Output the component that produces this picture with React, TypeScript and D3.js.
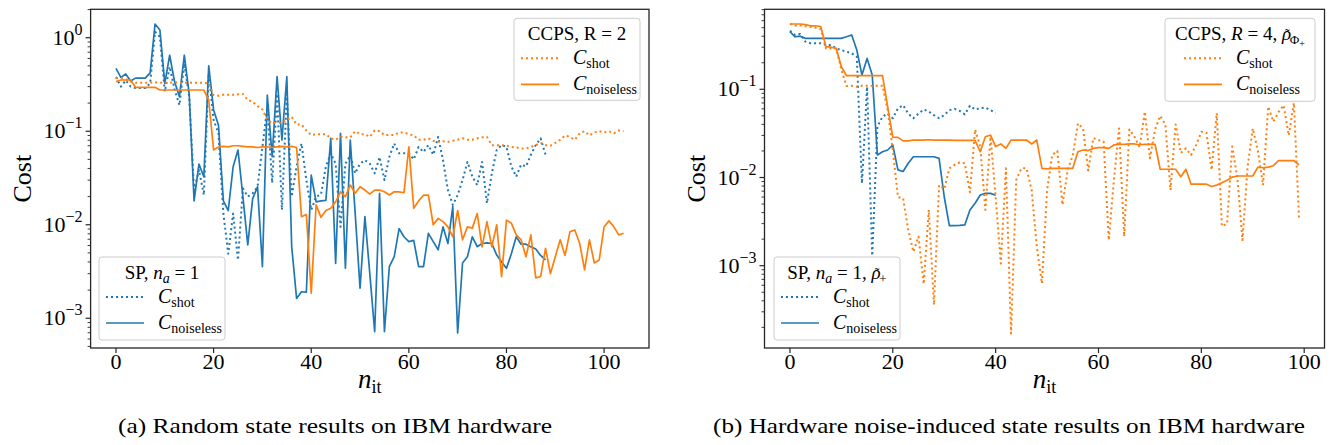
import React from "react";
import * as d3 from "d3";

const BLUE = "#1f77b4";
const ORANGE = "#ff7f0e";
const SERIF = "Liberation Serif, Times New Roman, Times, serif";

// (a) random state, SP n_a = 1 (blue) and CCPS R = 2 (orange), one value per iteration
const aBlueShot = [
  0.38, 0.3, 0.35, 0.3, 0.29, 0.29, 0.29, 0.325, 1.16, 1.02,
  0.265, 0.49, 0.28, 0.19, 0.53, 0.234, 0.0235, 0.0385, 0.0208, 0.416,
  0.132, 0.095, 0.0132, 0.0049, 0.0132, 0.0042, 0.0245, 0.02, 0.0217, 0.0255,
  0.068, 0.18, 0.028, 0.25, 0.0144, 0.25, 0.02, 0.042, 0.074, 0.03,
  0.0144, 0.02, 0.021, 0.042, 0.058, 0.045, 0.0095, 0.045, 0.055, 0.0355,
  0.045, 0.049, 0.045, 0.0355, 0.053, 0.03, 0.053, 0.074, 0.058, 0.058,
  0.058, 0.05, 0.068, 0.06, 0.071, 0.056, 0.087, 0.049, 0.0235, 0.0163,
  0.0207, 0.03, 0.047, 0.0327, 0.0266, 0.047, 0.017, 0.0355, 0.063, 0.071,
  0.068, 0.042, 0.0327, 0.044, 0.042, 0.056, 0.071, 0.084, 0.056,
];
const aBlueNoiseless = [
  0.47, 0.377, 0.41, 0.344, 0.37, 0.37, 0.37, 0.42, 1.4, 1.21,
  0.325, 0.65, 0.34, 0.234, 0.65, 0.25, 0.018, 0.0446, 0.0326, 0.5,
  0.169, 0.116, 0.018, 0.0142, 0.0417, 0.063, 0.02, 0.0061, 0.019, 0.0255,
  0.00356, 0.244, 0.0535, 0.383, 0.0805, 0.383, 0.00582, 0.00163, 0.00192, 0.0019,
  0.034, 0.0176, 0.018, 0.0182, 0.084, 0.00386, 0.095, 0.00342, 0.0805, 0.0133,
  0.0021, 0.0122, 0.003, 0.000718, 0.0217, 0.000718, 0.00356, 0.00455, 0.0091, 0.00744,
  0.0066, 0.0068, 0.00356, 0.00356, 0.0081, 0.0066, 0.0054, 0.0095, 0.0063, 0.0156,
  0.000695, 0.0039, 0.00455, 0.00744, 0.00582, 0.0063, 0.0064, 0.0063, 0.00474, 0.004,
  0.00342, 0.0049, 0.00744, 0.0062, 0.0062, 0.0058, 0.0055, 0.0047, 0.0042,
];
const aOrangeShot = [
  0.37, 0.37, 0.36, 0.34, 0.33, 0.33, 0.33, 0.33, 0.335, 0.33,
  0.33, 0.33, 0.335, 0.33, 0.33, 0.33, 0.33, 0.33, 0.33, 0.325,
  0.244, 0.24, 0.245, 0.245, 0.245, 0.248, 0.25, 0.216, 0.207, 0.186,
  0.171, 0.132, 0.123, 0.123, 0.123, 0.132, 0.143, 0.118, 0.118, 0.102,
  0.091, 0.093, 0.093, 0.093, 0.084, 0.081, 0.087, 0.086, 0.086, 0.1,
  0.093, 0.093, 0.087, 0.102, 0.1, 0.091, 0.091, 0.091, 0.097, 0.097,
  0.093, 0.09, 0.081, 0.081, 0.084, 0.079, 0.077, 0.078, 0.077, 0.079,
  0.081, 0.084, 0.081, 0.081, 0.084, 0.086, 0.087, 0.071, 0.071, 0.071,
  0.07, 0.068, 0.067, 0.0655, 0.0655, 0.068, 0.071, 0.075, 0.071, 0.07,
  0.075, 0.081, 0.09, 0.087, 0.081, 0.095, 0.1, 0.09, 0.097, 0.1,
  0.097, 0.1, 0.095, 0.102, 0.1,
];
const aOrangeNoiseless = [
  0.339, 0.353, 0.353, 0.353, 0.295, 0.295, 0.295, 0.295, 0.295, 0.276,
  0.276, 0.276, 0.276, 0.276, 0.276, 0.276, 0.276, 0.276, 0.276, 0.216,
  0.063, 0.068, 0.069, 0.068, 0.07, 0.07, 0.069, 0.068, 0.068, 0.067,
  0.068, 0.068, 0.067, 0.068, 0.069, 0.068, 0.069, 0.067, 0.0122, 0.0129,
  0.00185, 0.0163, 0.012, 0.0142, 0.015, 0.0176, 0.0225, 0.02, 0.0266, 0.0217,
  0.0255, 0.0235, 0.0213, 0.0235, 0.0235, 0.0225, 0.0208, 0.0225, 0.0225, 0.022,
  0.068, 0.015, 0.018, 0.0207, 0.0207, 0.01, 0.0117, 0.0108, 0.0095, 0.0074,
  0.0142, 0.0069, 0.0095, 0.0092, 0.0132, 0.0058, 0.0108, 0.0058, 0.01, 0.00278,
  0.0112, 0.0104, 0.0078, 0.0069, 0.00455, 0.0078, 0.0027, 0.0028, 0.0056, 0.003,
  0.00455, 0.0069, 0.0047, 0.0084, 0.0088, 0.0063, 0.0033, 0.0069, 0.0039, 0.0042,
  0.0095, 0.011, 0.0095, 0.0078, 0.0081,
];

// (b) hardware noise-induced state
const bBlueShot = [
  0.46, 0.413, 0.424, 0.347, 0.333, 0.333, 0.333, 0.318, 0.318, 0.29,
  0.279, 0.267, 0.256, 0.234, 0.0086, 0.107, 0.0013, 0.0377, 0.049, 0.053,
  0.047, 0.061, 0.066, 0.053, 0.047, 0.053, 0.059, 0.056, 0.051, 0.047,
  0.051, 0.058, 0.06, 0.057, 0.052, 0.065, 0.059, 0.061, 0.062, 0.058,
  0.054,
];
const bBlueNoiseless = [
  0.45, 0.394, 0.4, 0.378, 0.378, 0.378, 0.378, 0.378, 0.378, 0.378,
  0.378, 0.394, 0.413, 0.279, 0.145, 0.224, 0.145, 0.018, 0.0196, 0.0205,
  0.0233, 0.0122, 0.0117, 0.0145, 0.0172, 0.0172, 0.0172, 0.0172, 0.0172, 0.0165,
  0.00605, 0.00284, 0.00284, 0.00286, 0.0029, 0.00429, 0.0051, 0.00634, 0.0066, 0.0066,
  0.0063,
];
const bOrangeShot = [
  0.55, 0.53, 0.53, 0.52, 0.51, 0.5, 0.48, 0.29, 0.29, 0.29,
  0.166, 0.109, 0.11, 0.107, 0.11, 0.11, 0.11, 0.11, 0.11, 0.058,
  0.0205, 0.006, 0.0058, 0.00254, 0.00144, 0.00214, 0.00062, 0.0043, 0.00036, 0.0082,
  0.0074, 0.0127, 0.0139, 0.0148, 0.0145, 0.0068, 0.035, 0.0224, 0.0043, 0.029,
  0.006, 0.00106, 0.0127, 0.00017, 0.0094, 0.0127, 0.0127, 0.0072, 0.00164, 0.00063,
  0.0072, 0.018, 0.02, 0.0049, 0.012, 0.018, 0.041, 0.036, 0.012, 0.028,
  0.0266, 0.0255, 0.00195, 0.0094, 0.036, 0.00214, 0.035, 0.029, 0.022, 0.0557,
  0.0165, 0.035, 0.05, 0.04, 0.0072, 0.04, 0.019, 0.0214, 0.018, 0.0234,
  0.033, 0.032, 0.0122, 0.0535, 0.0028, 0.003, 0.0224, 0.01, 0.00195, 0.0133,
  0.036, 0.02, 0.0082, 0.0636, 0.043, 0.055, 0.066, 0.03, 0.07, 0.0034,
];
const bOrangeNoiseless = [
  0.55, 0.55, 0.55, 0.54, 0.525, 0.525, 0.515, 0.304, 0.3, 0.29,
  0.18, 0.1426, 0.1426, 0.1426, 0.1426, 0.1426, 0.1426, 0.1426, 0.1426, 0.0636,
  0.0286, 0.0285, 0.026, 0.026, 0.0266, 0.0266, 0.0266, 0.0268, 0.0266, 0.0266,
  0.0266, 0.0266, 0.0264, 0.0264, 0.0264, 0.0264, 0.0264, 0.0196, 0.029, 0.0303,
  0.0224, 0.024, 0.0214, 0.0266, 0.0266, 0.0266, 0.0266, 0.024, 0.0266, 0.0127,
  0.0125, 0.0127, 0.0127, 0.0127, 0.0127, 0.0127, 0.0196, 0.0205, 0.0202, 0.0214,
  0.0218, 0.0218, 0.0214, 0.0234, 0.0238, 0.0238, 0.024, 0.024, 0.0235, 0.0238,
  0.0238, 0.0238, 0.0124, 0.0124, 0.0124, 0.0124, 0.0102, 0.0124, 0.0084, 0.0084,
  0.0084, 0.0084, 0.0079, 0.0082, 0.0087, 0.0093, 0.0101, 0.0104, 0.0104, 0.0104,
  0.0104, 0.0131, 0.0129, 0.0131, 0.0136, 0.0155, 0.0155, 0.0155, 0.0155, 0.0139,
];

const xTickValues = [0, 20, 40, 60, 80, 100];
const aYExponents = [0, -1, -2, -3];
const bYExponents = [-1, -2, -3];
const captionA = "(a) Random state results on IBM hardware";
const captionB = "(b) Hardware noise-induced state results on IBM hardware";

type Box = { left: number; right: number; top: number; bottom: number };
type Series = { values: number[]; color: string; dotted: boolean };

const AXIS = "#262626";

function Panel(props: {
  id: string;
  box: Box;
  xDomain: [number, number];
  yDomain: [number, number];
  yExponents: number[];
  series: Series[];
  children?: React.ReactNode;
}) {
  const { id, box, xDomain, yDomain, yExponents, series } = props;
  const x = d3.scaleLinear().domain(xDomain).range([box.left, box.right]);
  const y = d3.scaleLog().domain(yDomain).range([box.bottom, box.top]);
  const line = d3
    .line<number>()
    .x((_, i) => x(i))
    .y((d) => y(d));

  const minor: number[] = [];
  const [lo, hi] = yDomain;
  for (let e = Math.floor(Math.log10(lo)); e <= Math.ceil(Math.log10(hi)); e++) {
    for (let k = 2; k <= 9; k++) {
      const v = k * Math.pow(10, e);
      if (v >= lo && v <= hi) minor.push(v);
    }
  }
  const cx = (box.left + box.right) / 2;
  const cy = (box.top + box.bottom) / 2;

  return (
    <g>
      <defs>
        <clipPath id={id}>
          <rect x={box.left} y={box.top} width={box.right - box.left} height={box.bottom - box.top} />
        </clipPath>
      </defs>
      <g clipPath={`url(#${id})`}>
        {series.map((s, i) => (
          <path
            key={i}
            d={line(s.values) || ""}
            fill="none"
            stroke={s.color}
            strokeWidth={s.dotted ? 2 : 1.7}
            strokeDasharray={s.dotted ? "2 3" : undefined}
            strokeLinejoin="round"
          />
        ))}
      </g>
      <rect
        x={box.left}
        y={box.top}
        width={box.right - box.left}
        height={box.bottom - box.top}
        fill="none"
        stroke={AXIS}
        strokeWidth={1.3}
      />
      {xTickValues.map((t) => (
        <g key={t}>
          <line x1={x(t)} x2={x(t)} y1={box.bottom} y2={box.bottom + 5} stroke={AXIS} strokeWidth={1.2} />
          <text x={x(t)} y={box.bottom + 21} textAnchor="middle" fontSize={22}>
            {t}
          </text>
        </g>
      ))}
      {minor.map((v) => (
        <line key={v} x1={box.left - 3} x2={box.left} y1={y(v)} y2={y(v)} stroke={AXIS} strokeWidth={0.9} />
      ))}
      {yExponents.map((e) => (
        <g key={e}>
          <line x1={box.left - 5} x2={box.left} y1={y(Math.pow(10, e))} y2={y(Math.pow(10, e))} stroke={AXIS} strokeWidth={1.2} />
          <text x={box.left - 8} y={y(Math.pow(10, e)) + 7} textAnchor="end" fontSize={22}>
            10
            <tspan dy={-10} fontSize={16}>
              {e === 0 ? "0" : "\u2212" + Math.abs(e)}
            </tspan>
          </text>
        </g>
      ))}
      <text
        transform={`translate(${box.left - 60},${cy}) rotate(-90)`}
        textAnchor="middle"
        fontSize={26}
      >
        Cost
      </text>
      <text x={cx} y={box.bottom + 40} textAnchor="middle" fontSize={27}>
        <tspan fontStyle="italic">n</tspan>
        <tspan dy={5} fontSize={18}>it</tspan>
      </text>
      {props.children}
    </g>
  );
}

// rho with a small tilde placed over it, followed by a subscript
function RhoTilde(props: { sub: React.ReactNode }) {
  return (
    <>
      <tspan fontStyle="italic">{"\u03C1"}</tspan>
      <tspan dx={-6} dy={-1} fontSize={14}>{"\u02DC"}</tspan>
      <tspan dx={0} dy={5} fontSize={13}>{props.sub}</tspan>
    </>
  );
}

function Legend(props: { x: number; y: number; w: number; h: number; color: string; title: React.ReactNode }) {
  const { x, y, w, h, color } = props;
  const bl = x + (w - 114) / 2;
  const rows = [
    { dy: 40, dotted: true, sub: "shot" },
    { dy: 66, dotted: false, sub: "noiseless" },
  ];
  return (
    <g>
      <rect x={x} y={y} width={w} height={h} rx={3} fill="#ffffff" fillOpacity={0.8} stroke="#cccccc" strokeWidth={1} />
      <text x={x + w / 2} y={y + 22} textAnchor="middle" fontSize={19}>
        {props.title}
      </text>
      {rows.map((r) => (
        <g key={r.sub}>
          <line
            x1={bl + 1}
            x2={bl + 39}
            y1={y + r.dy}
            y2={y + r.dy}
            stroke={color}
            strokeWidth={r.dotted ? 2 : 1.7}
            strokeDasharray={r.dotted ? "2 3" : undefined}
          />
          <text x={bl + 53} y={y + r.dy + 6} fontSize={20}>
            <tspan fontStyle="italic">C</tspan>
            <tspan dy={4} fontSize={14}>
              {r.sub}
            </tspan>
          </text>
        </g>
      ))}
    </g>
  );
}

export default function App() {
  const boxA: Box = { left: 90.6, right: 649, top: 9.3, bottom: 348 };
  const boxB: Box = { left: 764.5, right: 1324.5, top: 9.3, bottom: 348 };
  return (
    <svg
      width={1335}
      height={445}
      viewBox="0 0 1335 445"
      style={{ position: "absolute", left: 0, top: 0, background: "#fff" }}
      fontFamily={SERIF}
      fill="#000"
    >
      <Panel
        id="clipA"
        box={boxA}
        xDomain={[-5.2, 109.2]}
        yDomain={[Math.pow(10, -3.318), Math.pow(10, 0.304)]}
        yExponents={aYExponents}
        series={[
          { values: aBlueShot, color: BLUE, dotted: true },
          { values: aBlueNoiseless, color: BLUE, dotted: false },
          { values: aOrangeShot, color: ORANGE, dotted: true },
          { values: aOrangeNoiseless, color: ORANGE, dotted: false },
        ]}
      >
        <Legend x={514} y={18.3} w={126} h={82} color={ORANGE} title={<tspan>CCPS, R = 2</tspan>} />
        <Legend
          x={99}
          y={257}
          w={126}
          h={83}
          color={BLUE}
          title={
            <>
              <tspan>SP, </tspan>
              <tspan fontStyle="italic">n</tspan>
              <tspan dy={4} fontSize={14} fontStyle="italic">a</tspan>
              <tspan dy={-4}> = 1</tspan>
            </>
          }
        />
      </Panel>
      <Panel
        id="clipB"
        box={boxB}
        xDomain={[-4.95, 103.95]}
        yDomain={[Math.pow(10, -3.933), Math.pow(10, -0.093)]}
        yExponents={bYExponents}
        series={[
          { values: bBlueShot, color: BLUE, dotted: true },
          { values: bBlueNoiseless, color: BLUE, dotted: false },
          { values: bOrangeShot, color: ORANGE, dotted: true },
          { values: bOrangeNoiseless, color: ORANGE, dotted: false },
        ]}
      >
        <Legend
          x={1165}
          y={18.3}
          w={150}
          h={83}
          color={ORANGE}
          title={
            <>
              <tspan>CCPS, </tspan>
              <tspan fontStyle="italic">R</tspan>
              <tspan> = 4, </tspan>
              <RhoTilde
                sub={
                  <>
                    {"\u03A6"}
                    <tspan dy={3} fontSize={10}>+</tspan>
                  </>
                }
              />
            </>
          }
        />
        <Legend
          x={774}
          y={257}
          w={126}
          h={83}
          color={BLUE}
          title={
            <>
              <tspan>SP, </tspan>
              <tspan fontStyle="italic">n</tspan>
              <tspan dy={4} fontSize={14} fontStyle="italic">a</tspan>
              <tspan dy={-4}> = 1, </tspan>
              <RhoTilde sub="+" />
            </>
          }
        />
      </Panel>
      <text x={335} y={433} textAnchor="middle" fontSize={22} textLength={434} lengthAdjust="spacingAndGlyphs">
        {captionA}
      </text>
      <text x={1009} y={433} textAnchor="middle" fontSize={22} textLength={592} lengthAdjust="spacingAndGlyphs">
        {captionB}
      </text>
    </svg>
  );
}
